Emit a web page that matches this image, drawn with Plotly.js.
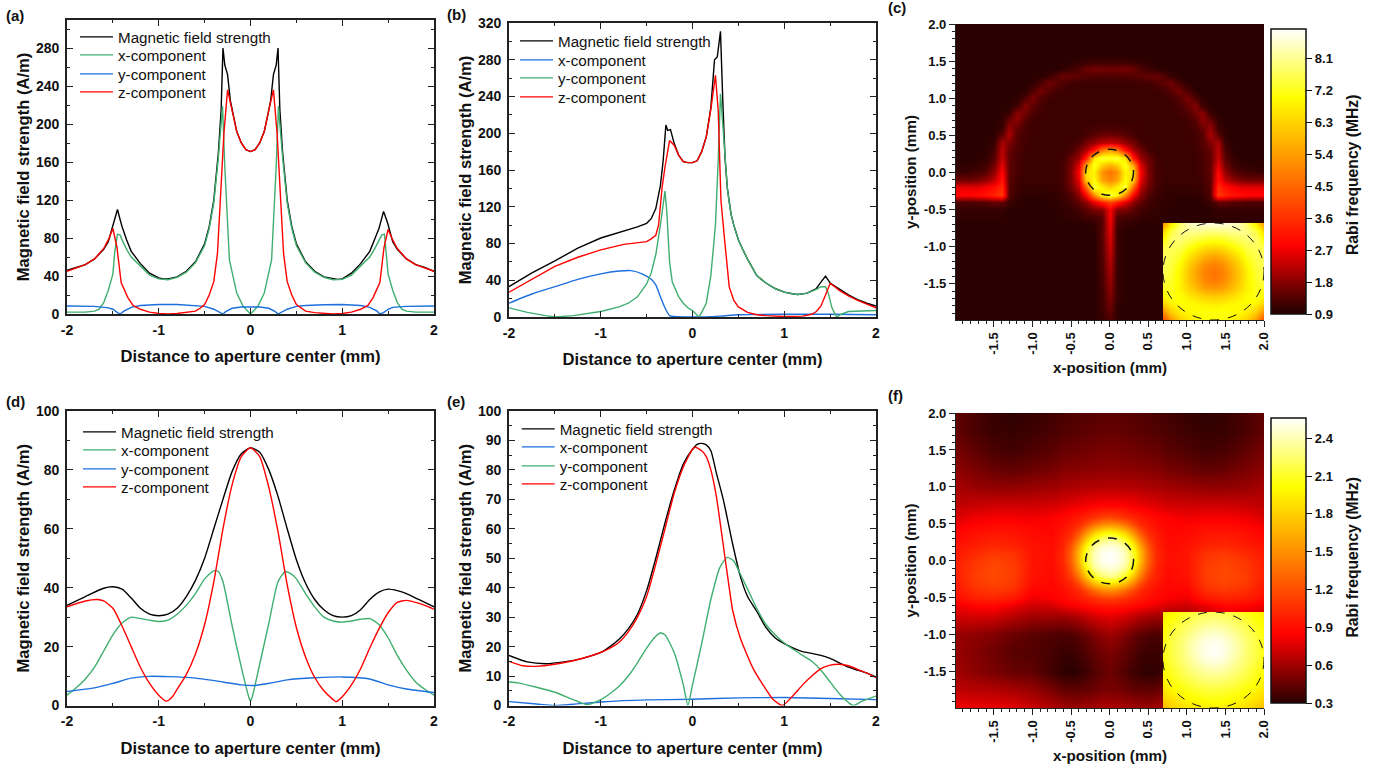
<!DOCTYPE html>
<html><head><meta charset="utf-8">
<script src="https://cdn.plot.ly/plotly-3.0.1.min.js"></script>
<style>html,body{margin:0;padding:0;background:#fff}#g{width:1399px;height:767px}</style>
</head><body><div id="g"></div>
<script>
// ---------- panel (a)
const a_total_x=[-2,-1.9,-1.8,-1.7,-1.6,-1.55,-1.5,-1.48,-1.45,-1.42,-1.4,-1.35,-1.3,-1.2,-1.1,-1,-.95,-.9,-.8,-.7,-.6,-.5,-.45,-.4,-.35,-.32,-.3,-.28,-.25,-.22,-.2,-.15,-.1,-.05,0,.05,.1,.15,.2,.22,.25,.28,.3,.32,.35,.4,.45,.5,.6,.7,.8,.9,.95,1,1.1,1.2,1.3,1.35,1.4,1.42,1.45,1.48,1.5,1.55,1.6,1.7,1.8,1.9,2];
const a_total_y=[46,49,52,58,68,76,94,100,110,99,92,78,66,53,43,38,37,37,39,45,55,74,92,120,170,215,280,262,252,225,215,192,180,173,171,173,180,192,215,225,252,262,280,215,170,120,92,74,55,45,39,37,36.5,37,43,53,66,78,90,97,108,100,94,76,68,58,52,49,45];
const a_x_x=[-2,-1.8,-1.7,-1.65,-1.6,-1.55,-1.5,-1.48,-1.45,-1.42,-1.4,-1.35,-1.3,-1.2,-1.1,-1,-.9,-.8,-.7,-.6,-.5,-.45,-.4,-.35,-.32,-.305,-.28,-.23,-.15,-.08,0,.08,.15,.23,.28,.305,.32,.35,.4,.45,.5,.6,.7,.8,.9,1,1.1,1.2,1.3,1.35,1.4,1.43,1.46,1.48,1.5,1.55,1.6,1.65,1.7,1.8,2];
const a_x_y=[2,2,3,5,12,25,42,65,84,83,78,68,60,50,41,37,36,38.5,44,54,72,90,117,165,200,219,155,57,22,8,0,8,22,57,155,219,200,165,117,90,72,54,44,38.5,36,36.5,41,50,60,68,78,83,84,65,42,25,12,5,3,2,2];
const a_y_x=[-2,-1.7,-1.55,-1.5,-1.45,-1.42,-1.38,-1.3,-1.2,-1,-.8,-.6,-.5,-.4,-.32,-.3,-.27,-.2,-.1,0,.1,.2,.27,.3,.32,.4,.5,.6,.8,1,1.2,1.3,1.38,1.41,1.45,1.5,1.55,1.7,2];
const a_y_y=[8.5,8,6.5,5,1.5,0,3,7,9,10,10,9,8,5,1,0,2.5,6,7.3,7.3,7.3,6,2.5,0,1,5,8,9,9.7,10,9,7,3,0,1.5,5,7,8,8.5];
const a_z_x=[-2,-1.8,-1.7,-1.6,-1.55,-1.5,-1.455,-1.41,-1.335,-1.28,-1.2,-1.1,-1,-.9,-.8,-.7,-.6,-.55,-.5,-.45,-.4,-.36,-.32,-.29,-.25,-.2,-.15,-.1,-.05,0,.05,.1,.15,.2,.25,.29,.32,.36,.4,.45,.5,.55,.6,.7,.8,.9,1,1.1,1.2,1.28,1.335,1.41,1.455,1.5,1.55,1.6,1.7,1.8,2];
const a_z_y=[45,52,58,69,78,90,70,33,17,9,5,2,.5,0,.5,1.5,3,6,10,20,34,64,130,190,236,215,192,180,173,171,173,180,192,215,236,190,130,64,34,20,10,6,3,1.5,.5,0,.5,2,5,9,17,33,70,89,78,69,58,52,45];
// ---------- panel (b)
const b_total_x=[-2,-1.75,-1.5,-1.25,-1,-.9,-.75,-.6,-.5,-.45,-.4,-.35,-.32,-.29,-.27,-.24,-.2,-.15,-.1,-.05,0,.05,.1,.15,.2,.24,.27,.305,.33,.354,.38,.4,.42,.45,.5,.55,.6,.7,.8,.9,1,1.1,1.15,1.25,1.35,1.4,1.45,1.5,1.6,1.7,1.8,1.9,2];
const b_total_y=[33,48,61,75,86,89,93,98,102,107,118,143,170,209,203,204,189,176,169,168,168,170,180,196,228,280,283,311,236,174,140,125,112,100,84,73,63,45,37,31,27,25,24.5,26,31,38,44.5,37,30,24,19,15,12];
const b_x_x=[-2,-1.75,-1.5,-1.25,-1,-.8,-.67,-.55,-.45,-.4,-.35,-.3,-.25,-.2,0,.3,.5,1,1.5,2];
const b_x_y=[15,25,33,41,47,50,50.5,47,41,35,22,10,1.5,.5,0,1,2.5,3,3,2.5];
const b_y_x=[-2,-1.8,-1.6,-1.5,-1.3,-1,-.8,-.7,-.6,-.5,-.45,-.4,-.35,-.32,-.3,-.28,-.25,-.22,-.15,-.1,-.05,0,.07,.1,.15,.2,.25,.28,.305,.33,.354,.38,.4,.42,.45,.5,.55,.6,.7,.8,.9,1,1.1,1.15,1.25,1.35,1.4,1.45,1.48,1.52,1.57,1.62,1.7,2];
const b_y_y=[10,5,1.5,0,1.5,6,11,15,22,36,48,68,100,125,137,115,60,38,22,15,10,7,0,5,15,45,100,170,243,210,174,140,125,112,100,84,73,63,45,37,31,27,25,24.5,26,30,33,33,26,10,0,3,6,7];
const b_z_x=[-2,-1.75,-1.5,-1.25,-1,-.75,-.6,-.5,-.45,-.4,-.37,-.33,-.3,-.25,-.2,-.15,-.1,-.05,0,.05,.1,.15,.2,.25,.28,.31,.35,.4,.45,.5,.6,.7,.8,1,1.2,1.3,1.35,1.4,1.45,1.5,1.55,1.6,1.7,1.8,1.9,2];
const b_z_y=[27,41,55,65,73,79,81,82,85,89,100,142,163,192,187,176,169,168,168,170,180,196,226,263,225,127,84,33,18,11,5,2.5,1.5,.5,1,3,6,12,24,36.5,33,29,23,18,14,10];
// ---------- panel (d)
const d_total_x=[-2,-1.8,-1.6,-1.5,-1.4,-1.3,-1.2,-1.1,-1,-.9,-.8,-.7,-.6,-.5,-.4,-.3,-.2,-.1,0,.1,.2,.3,.4,.5,.6,.7,.8,.9,1,1.1,1.2,1.3,1.4,1.5,1.6,1.7,1.8,1.9,2];
const d_total_y=[34,37,39.8,40.3,39.5,36.5,33,31,30.5,31,33,37,42.5,50,60,70,79.5,85.5,87.5,86,80,71,60,49.5,41.5,36,32.5,30.5,30,30.5,32.5,36,38.5,39.5,39,38,36.5,35,33.5];
const d_x_x=[-2,-1.9,-1.8,-1.7,-1.6,-1.5,-1.4,-1.3,-1.2,-1.1,-1,-.9,-.8,-.7,-.6,-.5,-.4,-.35,-.3,-.2,-.1,-.02,0,.02,.1,.2,.3,.38,.45,.5,.6,.7,.8,.9,1,1.1,1.2,1.3,1.4,1.5,1.6,1.7,1.8,1.9,2];
const d_x_y=[3.5,6,9,13,18.5,24,28,30,29.5,29,28.5,29,31,34,38,43,45.7,45.5,42,27,13,3,1.5,3,14,28,42,45.5,44.5,43,38,33.5,30,28.7,28.3,28.7,29.3,29.5,27.5,23,17,12,8,5.5,3.5];
const d_y_x=[-2,-1.7,-1.5,-1.3,-1.1,-.9,-.6,-.3,-.1,.05,.2,.4,.7,1,1.3,1.5,1.7,2];
const d_y_y=[4.8,6,7.5,9.3,9.9,9.8,9.3,8,7,6.8,7.5,8.7,9.4,9.7,9,7,5.6,4.4];
const d_z_x=[-2,-1.8,-1.67,-1.6,-1.5,-1.4,-1.3,-1.2,-1.1,-1,-.92,-.85,-.8,-.7,-.6,-.5,-.4,-.3,-.2,-.1,0,.1,.2,.3,.4,.5,.6,.7,.8,.9,.93,1,1.1,1.2,1.3,1.4,1.5,1.6,1.7,1.8,1.9,2];
const d_z_y=[33.5,35.5,36,35.5,33,27,20,13,7.5,3.5,1.5,3,5.5,10.5,17.5,27.5,42,60,75,84.5,87.5,84.5,74,59,41,26.5,16.5,9.5,5,2,1.3,3,7,12.5,19.5,26,31.5,35,35.7,35,34,32.7];
// ---------- panel (e)
const e_total_x=[-2,-1.8,-1.6,-1.4,-1.2,-1,-.9,-.8,-.7,-.6,-.5,-.4,-.3,-.2,-.1,0,.05,.1,.15,.2,.26,.335,.44,.52,.6,.7,.8,.9,1,1.1,1.2,1.3,1.4,1.5,1.6,1.7,1.8,1.9,2];
const e_total_y=[17,14.8,14.2,14.8,16,18,20,22.5,26,31,39,50,62,73,82,87,88.7,89,88.5,86.5,79,70,54.5,44,37,32,26.5,23,21,19.5,18.3,17.7,17,16,14.5,13,12,11,9.7];
const e_x_x=[-2,-1.7,-1.5,-1.3,-1,-.5,0,.5,1,1.5,2];
const e_x_y=[1.3,.5,0,.4,1.2,1.9,2.1,2.6,2.7,2.4,2];
const e_y_x=[-2,-1.9,-1.7,-1.5,-1.3,-1.15,-1,-.9,-.8,-.7,-.6,-.5,-.4,-.35,-.3,-.2,-.1,-.05,0,.1,.2,.3,.38,.45,.5,.6,.7,.8,.9,1,1.1,1.2,1.3,1.4,1.5,1.6,1.7,1.75,1.85,2];
const e_y_y=[8,7.7,6.2,4.5,2,.3,2,4,6.5,10,14.5,19.5,23.5,24.6,24,18,7,0,7,21,36,47,50.3,49,46,39.5,33,27.5,24,21.2,19,17,15,12,8,4,1,0,1.5,3.2];
const e_z_x=[-2,-1.85,-1.7,-1.5,-1.3,-1,-.9,-.8,-.7,-.6,-.5,-.4,-.3,-.2,-.1,0,.03,.1,.15,.2,.26,.335,.4,.44,.52,.66,.8,.88,.98,1.1,1.2,1.3,1.4,1.5,1.6,1.7,1.8,1.9,2];
const e_z_y=[15,13.5,13.3,14,15.2,18,19.5,21.5,25,30,37,48,60,72,81,87,87.7,86.5,84.5,80,71,54.5,40,32,23,12.6,5.5,2,0,3.5,7,10,12.5,13.7,14,13.5,12.3,11,9.5];
// ---------- heat map (c), mm, 0.1 step, bottom row first
const c_xs=[-2,-1.9,-1.8,-1.7,-1.6,-1.5,-1.4,-1.3,-1.2,-1.1,-1,-.9,-.8,-.7,-.6,-.5,-.4,-.3,-.2,-.1,0,.1,.2,.3,.4,.5,.6,.7,.8,.9,1,1.1,1.2,1.3,1.4,1.5,1.6,1.7,1.8,1.9,2];
const c_ys=c_xs.slice();
const c_z=[
[1,1,1,1,1,1,1,1,1,1,1,1,1,1,1,1,1,1,1,1.1,1.3,1.05,1,1,1,1,1,1,1,1,1,1,1,1,1,1,1,1,1,1,1],
[1,1,1,1,1,1,1,1,1,1,1,1,1,1,1,1,1,1,1,1.15,1.45,1.05,1,1,1,1,1,1,1,1,1,1,1,1,1,1,1,1,1,1,1],
[1,1,1,1,1,1,1,1,1,1,1,1,1,1,1,1,1,1,1,1.15,1.6,1.05,1,1,1,1,1,1,1,1,1,1,1,1,1,1,1,1,1,1,1],
[1,1,1,1,1,1,1,1,1,1,1,1,1,1,1,1,1,1,1,1.2,1.7,1.1,1,1,1,1,1,1,1,1,1,1,1,1,1,1,1,1,1,1,1],
[1,1,1,1,1,1,1,1,1,1,1,1,1,1,1,1,1,1,1,1.2,1.8,1.1,1,1,1,1,1,1,1,1,1,1,1,1,1,1,1,1,1,1,1],
[1,1,1,1,1,1,1,1,1,1,1,1,1,1,1,1,1,1,1,1.25,1.9,1.1,1,1,1,1,1,1,1,1,1,1,1,1,1,1,1,1,1,1,1],
[1,1,1,1,1,1,1,1,1,1,1,1,1,1,1,1,1,1,1,1.25,2,1.1,1,1,1,1,1,1,1,1,1,1,1,1,1,1,1,1,1,1,1],
[1,1,1,1,1,1,1,1,1,1,1,1,1,1,1,1,1,1,1,1.3,2.1,1.1,1,1,1,1,1,1,1,1,1,1,1,1,1,1,1,1,1,1,1],
[1,1,1,1,1,1,1,1,1,1,1,1,1,1,1,1,1,1,1,1.3,2.2,1.1,1,1,1,1,1,1,1,1,1,1,1,1,1,1,1,1,1,1,1],
[1,1,1,1,1,1,1,1,1,1,1,1,1,1,1,1,1,1,1,1.35,2.3,1.15,1,1,1,1,1,1,1,1,1,1,1,1,1,1,1,1,1,1,1],
[1,1,1,1,1,1,1,1,1,1,1,1,1,1,1,1,1,1,1,1.35,2.4,1.15,1,1,1,1,1,1,1,1,1,1,1,1,1,1,1,1,1,1,1],
[1,1,1,1,1,1,1,1,1,1,1,1,1,1,1,1,1,1,1,1.4,2.5,1.15,1,1,1,1,1,1,1,1,1,1,1,1,1,1,1,1,1,1,1],
[1,1,1,1,1,1,1,1,1,1,1,1,1,1,1,1,1,1,1,1.4,2.6,1.15,1,1,1,1,1,1,1,1,1,1,1,1,1,1,1,1,1,1,1],
[1,1,1,1,1,1,1,1,1,1,1,1,1,1,1,1,1,1,1.05,1.35,2.7,1.2,1.1,1.05,1.02,1,1,1,1,1,1,1,1,1,1,1,1,1,1,1,1],
[1.05,1.05,1.05,1.05,1.05,1.05,1.05,1,1,1,1,1,1,1.02,1.04,1.07,1.12,1.2,1.25,1.4,2.8,1.3,1.25,1.2,1.12,1.07,1.04,1.02,1,1,1,1,1,1,1.05,1.05,1.05,1.05,1.05,1.05,1.05],
[1.1,1.1,1.1,1.1,1.1,1.1,1.1,1.02,1,1,1,1,1,1.03,1.07,1.12,1.22,1.45,1.7,1.85,2.8,1.85,1.7,1.45,1.22,1.12,1.07,1.03,1,1,1,1,1,1.02,1.1,1.1,1.1,1.1,1.1,1.1,1.1],
[1.3,1.3,1.3,1.35,1.4,1.5,1.5,1.15,1.05,1,1,1,1.03,1.05,1.1,1.22,1.5,1.85,2.6,3.3,3.9,3.3,2.6,1.85,1.5,1.22,1.1,1.05,1.03,1,1,1,1.05,1.15,1.5,1.5,1.4,1.35,1.3,1.3,1.3],
[2.9,2.9,2.9,3,3.1,3.4,3.7,1.35,1.1,1.05,1.05,1.05,1.05,1.07,1.15,1.35,1.85,2.9,5.1,6.9,7.6,6.9,5.1,2.9,1.85,1.35,1.15,1.07,1.05,1.05,1.05,1.05,1.1,1.35,3.7,3.4,3.1,3,2.9,2.9,2.9],
[2.6,2.6,2.6,2.6,2.8,3,3.5,1.4,1.15,1.1,1.1,1.1,1.1,1.12,1.22,1.6,2.3,4.5,7.5,6.8,6.2,6.8,7.5,4.5,2.3,1.6,1.22,1.12,1.1,1.1,1.1,1.1,1.15,1.4,3.5,3,2.8,2.6,2.6,2.6,2.6],
[1.6,1.6,1.6,1.7,1.9,2.3,3.1,1.4,1.2,1.15,1.15,1.15,1.15,1.15,1.25,1.72,2.7,6.2,7,5.5,5,5.5,7,6.2,2.7,1.72,1.25,1.15,1.15,1.15,1.15,1.15,1.2,1.4,3.1,2.3,1.9,1.7,1.6,1.6,1.6],
[1.15,1.15,1.2,1.25,1.4,1.9,2.9,1.45,1.25,1.15,1.15,1.15,1.15,1.15,1.25,1.75,2.9,6.6,6.8,5.2,4.7,5.2,6.8,6.6,2.9,1.75,1.25,1.15,1.15,1.15,1.15,1.15,1.25,1.45,2.9,1.9,1.4,1.25,1.2,1.15,1.15],
[1.02,1.03,1.05,1.1,1.2,1.6,2.6,1.45,1.25,1.15,1.15,1.15,1.15,1.15,1.25,1.65,2.6,5.5,7.3,6.2,5.7,6.2,7.3,5.5,2.6,1.65,1.25,1.15,1.15,1.15,1.15,1.15,1.25,1.45,2.6,1.6,1.2,1.1,1.05,1.03,1.02],
[1,1,1,1.03,1.08,1.4,2.35,1.45,1.25,1.15,1.15,1.15,1.15,1.15,1.2,1.55,2,3.3,6.6,7.5,7.3,7.5,6.6,3.3,2,1.55,1.2,1.15,1.15,1.15,1.15,1.15,1.25,1.45,2.35,1.4,1.08,1.03,1,1,1],
[1,1,1,1,1.03,1.25,2.25,1.5,1.3,1.18,1.15,1.15,1.15,1.15,1.15,1.25,1.65,2.1,3.1,4.8,5.5,4.8,3.1,2.1,1.65,1.25,1.15,1.15,1.15,1.15,1.15,1.18,1.3,1.5,2.25,1.25,1.03,1,1,1,1],
[1,1,1,1,1,1.12,2.1,1.7,1.35,1.2,1.15,1.15,1.15,1.15,1.15,1.18,1.3,1.65,1.95,2.3,2.4,2.3,1.95,1.65,1.3,1.18,1.15,1.15,1.15,1.15,1.15,1.2,1.35,1.7,2.1,1.12,1,1,1,1,1],
[1,1,1,1,1,1.05,1.45,2.1,1.35,1.22,1.18,1.15,1.15,1.15,1.15,1.15,1.15,1.25,1.4,1.55,1.6,1.55,1.4,1.25,1.15,1.15,1.15,1.15,1.15,1.15,1.18,1.22,1.35,2.1,1.45,1.05,1,1,1,1,1],
[1,1,1,1,1,1.02,1.15,1.95,1.5,1.25,1.18,1.15,1.15,1.15,1.15,1.15,1.18,1.2,1.22,1.25,1.25,1.25,1.22,1.2,1.18,1.15,1.15,1.15,1.15,1.15,1.18,1.25,1.5,1.95,1.15,1.02,1,1,1,1,1],
[1,1,1,1,1,1,1.08,1.55,1.85,1.35,1.2,1.15,1.15,1.15,1.15,1.15,1.15,1.15,1.15,1.15,1.15,1.15,1.15,1.15,1.15,1.15,1.15,1.15,1.15,1.15,1.2,1.35,1.85,1.55,1.08,1,1,1,1,1,1],
[1,1,1,1,1,1,1.02,1.15,1.85,1.6,1.3,1.2,1.15,1.15,1.15,1.15,1.15,1.15,1.15,1.15,1.15,1.15,1.15,1.15,1.15,1.15,1.15,1.15,1.15,1.2,1.3,1.6,1.85,1.15,1.02,1,1,1,1,1,1],
[1,1,1,1,1,1,1,1.03,1.2,1.8,1.45,1.25,1.15,1.15,1.15,1.15,1.15,1.15,1.15,1.15,1.15,1.15,1.15,1.15,1.15,1.15,1.15,1.15,1.15,1.25,1.45,1.8,1.2,1.03,1,1,1,1,1,1,1],
[1,1,1,1,1,1,1,1,1.05,1.3,1.7,1.35,1.2,1.15,1.15,1.15,1.15,1.15,1.15,1.15,1.15,1.15,1.15,1.15,1.15,1.15,1.15,1.15,1.2,1.35,1.7,1.3,1.05,1,1,1,1,1,1,1,1],
[1,1,1,1,1,1,1,1,1,1.05,1.3,1.65,1.4,1.22,1.18,1.15,1.15,1.15,1.15,1.15,1.15,1.15,1.15,1.15,1.15,1.15,1.18,1.22,1.4,1.65,1.3,1.05,1,1,1,1,1,1,1,1,1],
[1,1,1,1,1,1,1,1,1,1,1.05,1.25,1.6,1.45,1.3,1.2,1.18,1.15,1.15,1.15,1.15,1.15,1.15,1.15,1.18,1.2,1.3,1.45,1.6,1.25,1.05,1,1,1,1,1,1,1,1,1,1],
[1,1,1,1,1,1,1,1,1,1,1,1.02,1.12,1.35,1.55,1.5,1.4,1.35,1.32,1.3,1.3,1.3,1.32,1.35,1.4,1.5,1.55,1.35,1.12,1.02,1,1,1,1,1,1,1,1,1,1,1],
[1,1,1,1,1,1,1,1,1,1,1,1,1,1.02,1.08,1.18,1.35,1.55,1.65,1.62,1.6,1.62,1.65,1.55,1.35,1.18,1.08,1.02,1,1,1,1,1,1,1,1,1,1,1,1,1],
[1,1,1,1,1,1,1,1,1,1,1,1,1,1,1,1.02,1.05,1.1,1.12,1.12,1.12,1.12,1.12,1.1,1.05,1.02,1,1,1,1,1,1,1,1,1,1,1,1,1,1,1],
[1,1,1,1,1,1,1,1,1,1,1,1,1,1,1,1,1,1,1,1,1,1,1,1,1,1,1,1,1,1,1,1,1,1,1,1,1,1,1,1,1],
[1,1,1,1,1,1,1,1,1,1,1,1,1,1,1,1,1,1,1,1,1,1,1,1,1,1,1,1,1,1,1,1,1,1,1,1,1,1,1,1,1],
[1,1,1,1,1,1,1,1,1,1,1,1,1,1,1,1,1,1,1,1,1,1,1,1,1,1,1,1,1,1,1,1,1,1,1,1,1,1,1,1,1],
[1,1,1,1,1,1,1,1,1,1,1,1,1,1,1,1,1,1,1,1,1,1,1,1,1,1,1,1,1,1,1,1,1,1,1,1,1,1,1,1,1],
[1,1,1,1,1,1,1,1,1,1,1,1,1,1,1,1,1,1,1,1,1,1,1,1,1,1,1,1,1,1,1,1,1,1,1,1,1,1,1,1,1]];
// ---------- inset of (c), aperture zoom
const ci_xs=[-.3,-.25,-.2,-.15,-.1,-.05,0,.05,.1,.15,.2,.25,.3];
const ci_z=[
[4,5.3,6.2,6.6,6.9,7,7,7,6.9,6.6,6.2,5.3,4],
[5.1,6.2,6.7,6.9,7,7.1,7.1,7.1,7,6.9,6.7,6.2,5.1],
[6.2,6.8,7,7,6.9,6.8,6.7,6.8,6.9,7,7,6.8,6.2],
[6.9,7.2,7,6.7,6.4,6.2,6.1,6.2,6.4,6.7,7,7.2,6.9],
[7.3,7.2,6.8,6.3,5.8,5.4,5.3,5.4,5.8,6.3,6.8,7.2,7.3],
[7.5,7.3,6.8,6.1,5.5,5,4.8,5,5.5,6.1,6.8,7.3,7.5],
[7.6,7.4,6.8,6.1,5.4,4.9,4.7,4.9,5.4,6.1,6.8,7.4,7.6],
[7.7,7.5,7,6.3,5.7,5.2,5,5.2,5.7,6.3,7,7.5,7.7],
[7.7,7.6,7.3,6.7,6.2,5.8,5.6,5.8,6.2,6.7,7.3,7.6,7.7],
[7.5,7.7,7.6,7.2,6.8,6.5,6.4,6.5,6.8,7.2,7.6,7.7,7.5],
[7,7.8,7.9,7.7,7.5,7.3,7.2,7.3,7.5,7.7,7.9,7.8,7],
[6.3,7.5,8,8.1,8.1,8,8,8,8.1,8.1,8,7.5,6.3],
[5.2,6.6,7.8,8.4,8.6,8.7,8.7,8.7,8.6,8.4,7.8,6.6,5.2]];
// ---------- heat map (f)
const f_xs=[-2,-1.75,-1.5,-1.25,-1,-.75,-.6,-.5,-.4,-.3,-.2,-.1,0,.1,.2,.3,.4,.5,.6,.75,1,1.25,1.5,1.75,2];
const f_ys=f_xs.slice();
const f_z=[
[.82,.8,.8,.78,.72,.66,.62,.6,.6,.62,.63,.65,.65,.65,.63,.62,.6,.6,.62,.66,.72,.78,.8,.8,.82],
[.68,.66,.65,.62,.58,.5,.45,.44,.44,.45,.47,.49,.5,.49,.47,.45,.44,.44,.45,.5,.58,.62,.65,.66,.68],
[.6,.55,.5,.46,.44,.36,.31,.3,.32,.35,.4,.44,.47,.44,.4,.35,.33,.31,.32,.36,.42,.46,.5,.55,.6],
[.58,.53,.47,.42,.4,.37,.34,.34,.36,.4,.44,.48,.5,.48,.44,.4,.36,.34,.34,.37,.4,.42,.47,.53,.58],
[.58,.55,.52,.46,.42,.39,.38,.39,.42,.46,.51,.56,.58,.56,.51,.46,.42,.39,.38,.39,.42,.46,.52,.55,.58],
[.72,.74,.72,.66,.6,.6,.6,.62,.65,.69,.73,.76,.78,.76,.73,.69,.65,.62,.6,.6,.6,.66,.72,.74,.72],
[.8,.86,.88,.8,.72,.74,.8,.83,.86,.89,.92,.94,.95,.94,.92,.89,.86,.83,.8,.74,.72,.8,.88,.86,.8],
[.9,.98,1,.95,.8,.84,.87,.91,.95,1,1.06,1.12,1.15,1.12,1.06,1,.95,.91,.87,.84,.8,.95,1,.98,.9],
[.93,1.05,1.1,1.05,.86,.86,.9,.96,1.03,1.17,1.34,1.46,1.5,1.46,1.34,1.17,1.03,.96,.9,.86,.86,1.05,1.1,1.05,.93],
[.96,1.1,1.15,1.1,.9,.87,.94,1.02,1.2,1.46,1.72,1.87,1.93,1.87,1.72,1.46,1.2,1.02,.94,.87,.9,1.1,1.15,1.1,.96],
[.98,1.12,1.18,1.12,.92,.88,.98,1.12,1.42,1.76,2.07,2.26,2.33,2.26,2.07,1.76,1.42,1.12,.98,.88,.92,1.12,1.18,1.12,.98],
[.98,1.1,1.17,1.12,.93,.89,1,1.23,1.6,2,2.33,2.45,2.48,2.45,2.33,2,1.6,1.23,1,.89,.93,1.12,1.17,1.1,.98],
[.97,1.08,1.15,1.1,.93,.9,1.03,1.29,1.71,2.13,2.41,2.52,2.55,2.52,2.41,2.13,1.71,1.29,1.03,.9,.93,1.1,1.15,1.08,.97],
[.95,1.03,1.1,1.07,.93,.9,1.03,1.29,1.71,2.13,2.41,2.52,2.55,2.52,2.41,2.13,1.71,1.29,1.03,.9,.93,1.07,1.1,1.03,.95],
[.92,.98,1.02,1,.92,.89,1,1.23,1.6,2,2.33,2.45,2.48,2.45,2.33,2,1.6,1.23,1,.89,.92,1,1.02,.98,.92],
[.88,.94,.98,.96,.9,.88,.98,1.12,1.42,1.76,2.07,2.26,2.33,2.26,2.07,1.76,1.42,1.12,.98,.88,.9,.96,.98,.94,.88],
[.84,.9,.93,.92,.88,.87,.94,1.02,1.2,1.46,1.72,1.87,1.93,1.87,1.72,1.46,1.2,1.02,.94,.87,.88,.92,.93,.9,.84],
[.8,.85,.88,.88,.85,.86,.9,.96,1.03,1.17,1.34,1.46,1.5,1.46,1.34,1.17,1.03,.96,.9,.86,.85,.88,.88,.85,.8],
[.75,.8,.82,.82,.8,.84,.87,.91,.95,1,1.06,1.12,1.15,1.12,1.06,1,.95,.91,.87,.84,.8,.82,.82,.8,.75],
[.68,.7,.72,.72,.72,.73,.76,.78,.8,.82,.84,.85,.85,.85,.84,.82,.8,.78,.76,.73,.72,.72,.72,.7,.68],
[.62,.58,.56,.56,.58,.6,.62,.63,.64,.65,.65,.66,.66,.66,.65,.65,.64,.63,.62,.6,.58,.56,.56,.58,.62],
[.55,.5,.45,.43,.46,.49,.52,.53,.53,.54,.54,.55,.55,.55,.54,.54,.53,.53,.52,.49,.46,.43,.45,.5,.55],
[.5,.43,.38,.36,.39,.42,.45,.46,.47,.48,.49,.5,.5,.5,.49,.48,.47,.46,.45,.42,.39,.36,.38,.43,.5],
[.45,.38,.34,.33,.35,.38,.4,.41,.42,.43,.44,.45,.45,.45,.44,.43,.42,.41,.4,.38,.35,.33,.34,.38,.45],
[.44,.38,.33,.31,.33,.36,.38,.39,.4,.41,.41,.42,.42,.42,.41,.41,.4,.39,.38,.36,.33,.31,.33,.38,.44]];
const fi_z=[
[1.7,1.78,1.85,1.9,1.93,1.95,1.96,1.95,1.93,1.9,1.85,1.78,1.7],
[1.8,1.87,1.93,1.98,2,2.03,2.04,2.03,2,1.98,1.93,1.87,1.8],
[1.88,1.95,2,2.05,2.08,2.11,2.12,2.11,2.08,2.05,2,1.95,1.88],
[1.95,2.02,2.07,2.13,2.18,2.2,2.22,2.2,2.18,2.13,2.07,2.02,1.95],
[1.98,2.06,2.15,2.2,2.26,2.3,2.31,2.3,2.26,2.2,2.15,2.06,1.98],
[2.02,2.1,2.19,2.27,2.34,2.39,2.41,2.39,2.34,2.27,2.19,2.1,2.02],
[2.04,2.15,2.24,2.32,2.41,2.48,2.5,2.48,2.41,2.32,2.24,2.15,2.04],
[2.05,2.16,2.25,2.35,2.45,2.52,2.55,2.52,2.45,2.35,2.25,2.16,2.05],
[2.05,2.16,2.25,2.35,2.45,2.51,2.54,2.51,2.45,2.35,2.25,2.16,2.05],
[2.04,2.14,2.23,2.31,2.4,2.46,2.48,2.46,2.4,2.31,2.23,2.14,2.04],
[2.01,2.09,2.18,2.25,2.32,2.37,2.39,2.37,2.32,2.25,2.18,2.09,2.01],
[1.98,2.04,2.12,2.18,2.24,2.27,2.29,2.27,2.24,2.18,2.12,2.04,1.98],
[1.92,1.99,2.05,2.1,2.16,2.18,2.2,2.18,2.16,2.1,2.05,1.99,1.92]];
// ---------- tick labels
const lineXTicks=[-2,-1,0,1,2], lineXLabels=['-2','-1','0','1','2'];
const aYTicks=[0,40,80,120,160,200,240,280], bYTicks=[0,40,80,120,160,200,240,280,320];
const dYTicks=[0,20,40,60,80,100], eYTicks=[0,10,20,30,40,50,60,70,80,90,100];
const heatTicks=[-1.5,-1,-.5,0,.5,1,1.5,2], heatLabels=['-1.5','-1.0','-0.5','0.0','0.5','1.0','1.5','2.0'];
const cBarTicks=[.9,1.8,2.7,3.6,4.5,5.4,6.3,7.2,8.1], fBarTicks=[.3,.6,.9,1.2,1.5,1.8,2.1,2.4];
const seriesNames={t:'Magnetic field strength',x:'x-component',y:'y-component',z:'z-component'};

// ---------- styling and layout helpers
const W=1399,H=767;
const BLACK='#000000',GREEN='#3fae6f',BLUE='#1c6fdc',RED='#ff0000',AX='#222222';
const FONT='"Liberation Sans", Arial, sans-serif';
const hotC=[[0,'#2a0000'],[.0125,'#2a0000'],[.24,'#ff0000'],[.5,'#ff8000'],[.76,'#ffff00'],[1,'#ffffff']];
const hotF=[[0,'#2a0000'],[.24,'#ff0000'],[.5,'#ff8000'],[.76,'#ffff00'],[1,'#ffffff']];
const dx=(a,b)=>[a/W,b/W], dy=(top,bot)=>[1-bot/H,1-top/H];
const tickFont={family:FONT,size:14,color:'#111',weight:700};
const heatTickFont={family:FONT,size:13,color:'#111',weight:700};
const titleFont={family:FONT,size:15.2,color:'#111',weight:700};
const wideTitleFont={family:FONT,size:16.6,color:'#111',weight:700};

let legendCount=0;
const legendSlots=[];
function line(n,x,y,color,name,top,smooth){
  const ax=n===1?'':n;
  legendCount++;
  const key='legend'+(legendCount===1?'':legendCount);
  legendSlots.push([key,top]);
  return {type:'scatter',mode:'lines',x,y,name,xaxis:'x'+ax,yaxis:'y'+ax,legend:key,
    line:{color,width:1.4,shape:smooth?'spline':'linear',smoothing:.6},hoverinfo:'skip'};
}
const data=[
 line(1,a_total_x,a_total_y,BLACK,seriesNames.t,[75,38]),
 line(1,a_x_x,a_x_y,GREEN,seriesNames.x,[75,56]),
 line(1,a_y_x,a_y_y,BLUE,seriesNames.y,[75,75]),
 line(1,a_z_x,a_z_y,RED,seriesNames.z,[75,93]),
 line(2,b_total_x,b_total_y,BLACK,seriesNames.t,[515,42]),
 line(2,b_x_x,b_x_y,BLUE,seriesNames.x,[515,61],true),
 line(2,b_y_x,b_y_y,GREEN,seriesNames.y,[515,79]),
 line(2,b_z_x,b_z_y,RED,seriesNames.z,[515,98]),
 line(3,d_total_x,d_total_y,BLACK,seriesNames.t,[78,433],true),
 line(3,d_x_x,d_x_y,GREEN,seriesNames.x,[78,451],true),
 line(3,d_y_x,d_y_y,BLUE,seriesNames.y,[78,470],true),
 line(3,d_z_x,d_z_y,RED,seriesNames.z,[78,488],true),
 line(4,e_total_x,e_total_y,BLACK,seriesNames.t,[516.7,430],true),
 line(4,e_x_x,e_x_y,BLUE,seriesNames.x,[516.7,448],true),
 line(4,e_y_x,e_y_y,GREEN,seriesNames.y,[516.7,467],true),
 line(4,e_z_x,e_z_y,RED,seriesNames.z,[516.7,485],true),
];
function bar(top,bot,vals){
  return {thickness:35,thicknessmode:'pixels',len:bot-top,lenmode:'pixels',x:1271/W,xanchor:'left',
    y:1-top/H,yanchor:'top',xpad:0,ypad:0,outlinewidth:1.5,outlinecolor:'#111',
    tickmode:'array',tickvals:vals,ticktext:vals.map(v=>v.toFixed(1)),ticks:'outside',ticklen:6,tickwidth:1.3,tickcolor:'#111',
    tickfont:heatTickFont};
}
function heat(n,x,y,z,zmin,zmax,scale,cb){
  return {type:'heatmap',x,y,z,zmin,zmax,zsmooth:'best',colorscale:scale,xaxis:'x'+n,yaxis:'y'+n,
    showscale:!!cb,colorbar:cb||undefined,hoverinfo:'skip'};
}
data.push(heat(5,c_xs,c_ys,c_z,.9,8.93,hotC,bar(29,314,cBarTicks)));
data.push(heat(6,ci_xs,ci_xs,ci_z,.9,8.93,hotC));
data.push(heat(7,f_xs,f_ys,f_z,.3,2.56,hotF,bar(418,703,fBarTicks)));
data.push(heat(8,ci_xs,ci_xs,fi_z,.3,2.56,hotF));

function lineAxes(dom,vd,ymax,yt,ym,anchor){
  const common={showline:true,linecolor:AX,linewidth:1.6,mirror:'ticks',ticks:'inside',ticklen:6,tickwidth:1.3,tickcolor:AX,
    showgrid:false,zeroline:false,tickfont:tickFont};
  return [
   Object.assign({},common,{domain:dom,range:[-2,2],anchor:'y'+anchor,tickmode:'array',tickvals:lineXTicks,ticktext:lineXLabels,
     minor:{ticks:'inside',ticklen:3,tickwidth:1.2,tickcolor:AX,dtick:.5,tick0:0,showgrid:false},ticklabelstandoff:2,
     title:{text:'Distance to aperture center (mm)',font:wideTitleFont,standoff:14}}),
   Object.assign({},common,{domain:vd,range:[0,ymax],anchor:'x'+anchor,tickmode:'array',tickvals:yt,ticklabelstandoff:3,
     minor:{ticks:'inside',ticklen:3,tickwidth:1.2,tickcolor:AX,dtick:ym,tick0:0,showgrid:false},
     title:{text:'Magnetic field strength (A/m)',font:wideTitleFont,standoff:2}})];
}
function heatAxes(dom,vd,anchor){
  const common={showline:true,linecolor:AX,linewidth:1.3,ticks:'outside',ticklen:6,tickwidth:1.3,tickcolor:AX,
    showgrid:false,zeroline:false,tickfont:heatTickFont,tickmode:'array',tickvals:heatTicks,ticktext:heatLabels,
    minor:{ticks:'outside',ticklen:3,tickwidth:1,tickcolor:AX,dtick:.1,tick0:0,showgrid:false}};
  return [
   Object.assign({},common,{domain:dom,range:[-1.99,2],anchor:'y'+anchor,tickangle:-90,title:{text:'x-position (mm)',font:titleFont,standoff:8}}),
   Object.assign({},common,{domain:vd,range:[-1.99,2],anchor:'x'+anchor,title:{text:'y-position (mm)',font:titleFont,standoff:3}})];
}
function insetAxes(dom,vd,anchor){
  return [{domain:dom,range:[-.3,.3],anchor:'y'+anchor,visible:false},{domain:vd,range:[-.3,.3],anchor:'x'+anchor,visible:false}];
}
const layout={width:W,height:H,margin:{l:0,r:0,t:0,b:0},paper_bgcolor:'#fff',plot_bgcolor:'#fff',font:{family:FONT,color:'#111'},showlegend:true};
[[1,dx(67,434),dy(20,314),309.5,aYTicks,20],[2,dx(509,876),dy(23,317),320,bYTicks,20],
 [3,dx(67,434),dy(411,705.5),100,dYTicks,10],[4,dx(509,876),dy(411,705.5),100,eYTicks,5]].forEach(p=>{
  const [xa,ya]=lineAxes(p[1],p[2],p[3],p[4],p[5],p[0]===1?'':p[0]);
  layout['xaxis'+(p[0]===1?'':p[0])]=xa; layout['yaxis'+(p[0]===1?'':p[0])]=ya;
});
let h=heatAxes(dx(956,1264),dy(24,320),5); layout.xaxis5=h[0]; layout.yaxis5=h[1];
h=insetAxes(dx(1163,1264),dy(223,320),6); layout.xaxis6=h[0]; layout.yaxis6=h[1];
h=heatAxes(dx(956,1264),dy(413,708),7); layout.xaxis7=h[0]; layout.yaxis7=h[1];
h=insetAxes(dx(1163,1264),dy(612,708),8); layout.xaxis8=h[0]; layout.yaxis8=h[1];

legendSlots.forEach(s=>{
  layout[s[0]]={x:s[1][0]/W,xanchor:'left',y:1-(s[1][1]-17.5)/H,yanchor:'top',bgcolor:'rgba(0,0,0,0)',borderwidth:0,itemwidth:33,
    traceorder:'normal',font:{family:FONT,size:15.2,color:'#111'},itemclick:false,itemdoubleclick:false};
});
const circ=(xref,yref,r,w)=>({type:'circle',xref,yref,x0:-r,x1:r,y0:-r,y1:r,line:{color:'#111',width:w,dash:'dash'},layer:'above'});
layout.shapes=[circ('x5','y5',.31,1.5),circ('x6','y6',.3,1),circ('x7','y7',.31,1.5),circ('x8','y8',.3,1)];
const lab=(t,x,y)=>({text:t,xref:'paper',yref:'paper',x:x/W,y:1-y/H,xanchor:'left',yanchor:'middle',showarrow:false,font:{family:FONT,size:15,color:'#111',weight:700}});
const barTitle=(x,y)=>({text:'Rabi frequency (MHz)',xref:'paper',yref:'paper',x:x/W,y:1-y/H,xanchor:'center',yanchor:'middle',textangle:-90,showarrow:false,font:{family:FONT,size:15.7,color:'#111',weight:700}});
layout.annotations=[lab('(a)',4,16),lab('(b)',445,14),lab('(c)',886,7),lab('(d)',4,401),lab('(e)',445,401),lab('(f)',886,395),barTitle(1352,175),barTitle(1352,557.5)];
Plotly.newPlot('g',data,layout,{displayModeBar:false,responsive:false});
</script></body></html>
